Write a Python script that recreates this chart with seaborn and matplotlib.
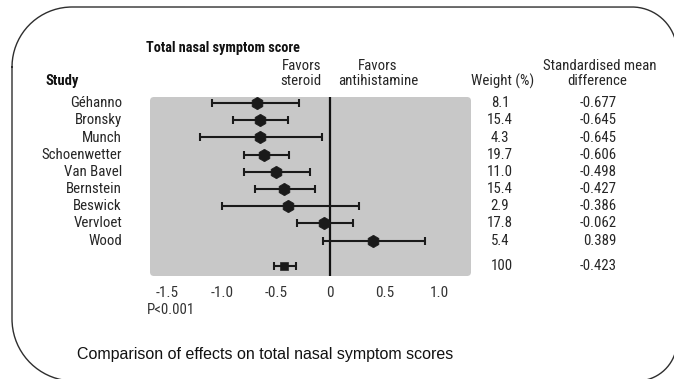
import matplotlib
matplotlib.use("Agg")
import matplotlib.pyplot as plt
from matplotlib.patches import FancyBboxPatch
import numpy as np
import seaborn as sns
import pandas as pd
from matplotlib import font_manager

studies = ["Géhanno", "Bronsky", "Munch", "Schoenwetter", "Van Bavel",
           "Bernstein", "Beswick", "Vervloet", "Wood"]
weights = ["8.1", "15.4", "4.3", "19.7", "11.0", "15.4", "2.9", "17.8", "5.4"]
smd = [-0.677, -0.645, -0.645, -0.606, -0.498, -0.427, -0.386, -0.062, 0.389]
ci_low = [-1.09, -0.90, -1.20, -0.79, -0.79, -0.69, -1.00, -0.31, -0.07]
ci_high = [-0.29, -0.39, -0.08, -0.38, -0.19, -0.14, 0.26, 0.21, 0.87]
total_weight = "100"
total_smd = -0.423
total_low = -0.52
total_high = -0.32
xticks = [-1.5, -1.0, -0.5, 0, 0.5, 1.0]
xticklabels = ["-1.5", "-1.0", "-0.5", "0", "0.5", "1.0"]

sns.set_theme(style="white")

names = {f.name for f in font_manager.fontManager.ttflist}
COND = "Roboto Condensed" if "Roboto Condensed" in names else "DejaVu Sans"
plt.rcParams["font.family"] = [COND, "DejaVu Sans"]

W, H = 674, 379
fig = plt.figure(figsize=(W / 100, H / 100), dpi=100)
fig.patch.set_facecolor("white")

bg = fig.add_axes([0, 0, 1, 1], zorder=0)
bg.set_xlim(0, W)
bg.set_ylim(H, 0)
bg.axis("off")

# outer rounded frame (corners of unequal radii, as in the reference)
L, R, Tp, B = 12, 677, 7, 381
corners = [((L + 60, Tp + 60), 60, 180, 270),   # top-left
           ((R - 45, Tp + 45), 45, 270, 360),   # top-right
           ((R - 40, B - 40), 40, 0, 90),       # bottom-right
           ((L + 62, B - 62), 62, 90, 180)]     # bottom-left
xs, ys = [], []
for (cx, cy), r, a0, a1 in corners:
    t = np.radians(np.linspace(a0, a1, 40))
    xs.extend(cx + r * np.cos(t))
    ys.extend(cy + r * np.sin(t))
xs.append(xs[0]); ys.append(ys[0])
bg.plot(xs, ys, color="#2e2e2e", linewidth=1.0, solid_capstyle="round")

# grey panel with softly rounded corners
bg.add_patch(FancyBboxPatch((150, 97), 321, 179, boxstyle="round,pad=0,rounding_size=4",
                            facecolor="#c8c8c8", edgecolor="none"))

df = pd.DataFrame({"study": studies, "smd": smd, "lo": ci_low, "hi": ci_high,
                   "row": list(range(len(studies)))})
total_row = 9.46

ax = fig.add_axes([150 / W, (H - 276) / H, 321 / W, 179 / H], zorder=1)
ax.patch.set_alpha(0)
for s in ax.spines.values():
    s.set_visible(False)

ax.errorbar(df["smd"], df["row"], xerr=[df["smd"] - df["lo"], df["hi"] - df["smd"]],
            fmt="none", ecolor="#1a1a1a", elinewidth=1.5, capsize=3, capthick=1.5, zorder=3)
sns.scatterplot(data=df, x="smd", y="row", marker="h", s=80, color="#1a1a1a",
                edgecolor="#1a1a1a", linewidth=0.5, ax=ax, zorder=4, legend=False)
ax.errorbar([total_smd], [total_row], xerr=[[total_smd - total_low], [total_high - total_smd]],
            fmt="none", ecolor="#1a1a1a", elinewidth=1.5, capsize=3, capthick=1.5, zorder=3)
sns.scatterplot(x=[total_smd], y=[total_row], marker="s", s=30, color="#1a1a1a",
                edgecolor="#1a1a1a", ax=ax, zorder=4, legend=False)
ax.axvline(0, color="#111111", linewidth=1.6, zorder=2)

ax.set_xlim(-1.659, 1.294)
ax.set_ylim(10.06, -0.35)
ax.set_xticks(xticks)
ax.set_xticklabels(xticklabels)
ax.set_yticks([])
ax.set_xlabel("")
ax.set_ylabel("")
ax.tick_params(axis="x", length=0, pad=7, labelsize=11, labelcolor="#333333")

txt = "#262626"
FS = 10.7
def T(x, y, s, **kw):
    kw.setdefault("color", txt)
    kw.setdefault("fontsize", FS)
    kw.setdefault("va", "center")
    bg.text(x, y, s, **kw)

T(146, 48, "Total nasal symptom score", fontweight="bold", color="#111111", fontsize=10.3)
T(46, 81, "Study", fontweight="bold", color="#111111", fontsize=10.5)
T(321, 66, "Favors", ha="right")
T(321, 81, "steroid", ha="right")
T(378, 66, "Favors", ha="center")
T(378, 81, "antihistamine", ha="center")
T(503, 81, "Weight (%)", ha="center")
T(600, 66, "Standardised mean", ha="center")
T(597, 81, "difference", ha="center")

row_y = [103.3 + 17.17 * i for i in range(len(studies))]
for i, name in enumerate(studies):
    T(122, row_y[i], name, ha="right")
    T(500, row_y[i], weights[i], ha="center")
    T(617, row_y[i], f"{smd[i]:.3f}", ha="right")
T(502, 265.5, total_weight, ha="center")
T(617, 265.5, f"{total_smd:.3f}", ha="right")

T(147, 310, "P<0.001", color="#333333")
T(77, 354, "Comparison of effects on total nasal symptom scores",
  family=["Liberation Sans", "DejaVu Sans"], fontsize=11.5, color="#111111")

fig.savefig("out.png", dpi=100, facecolor="white")
